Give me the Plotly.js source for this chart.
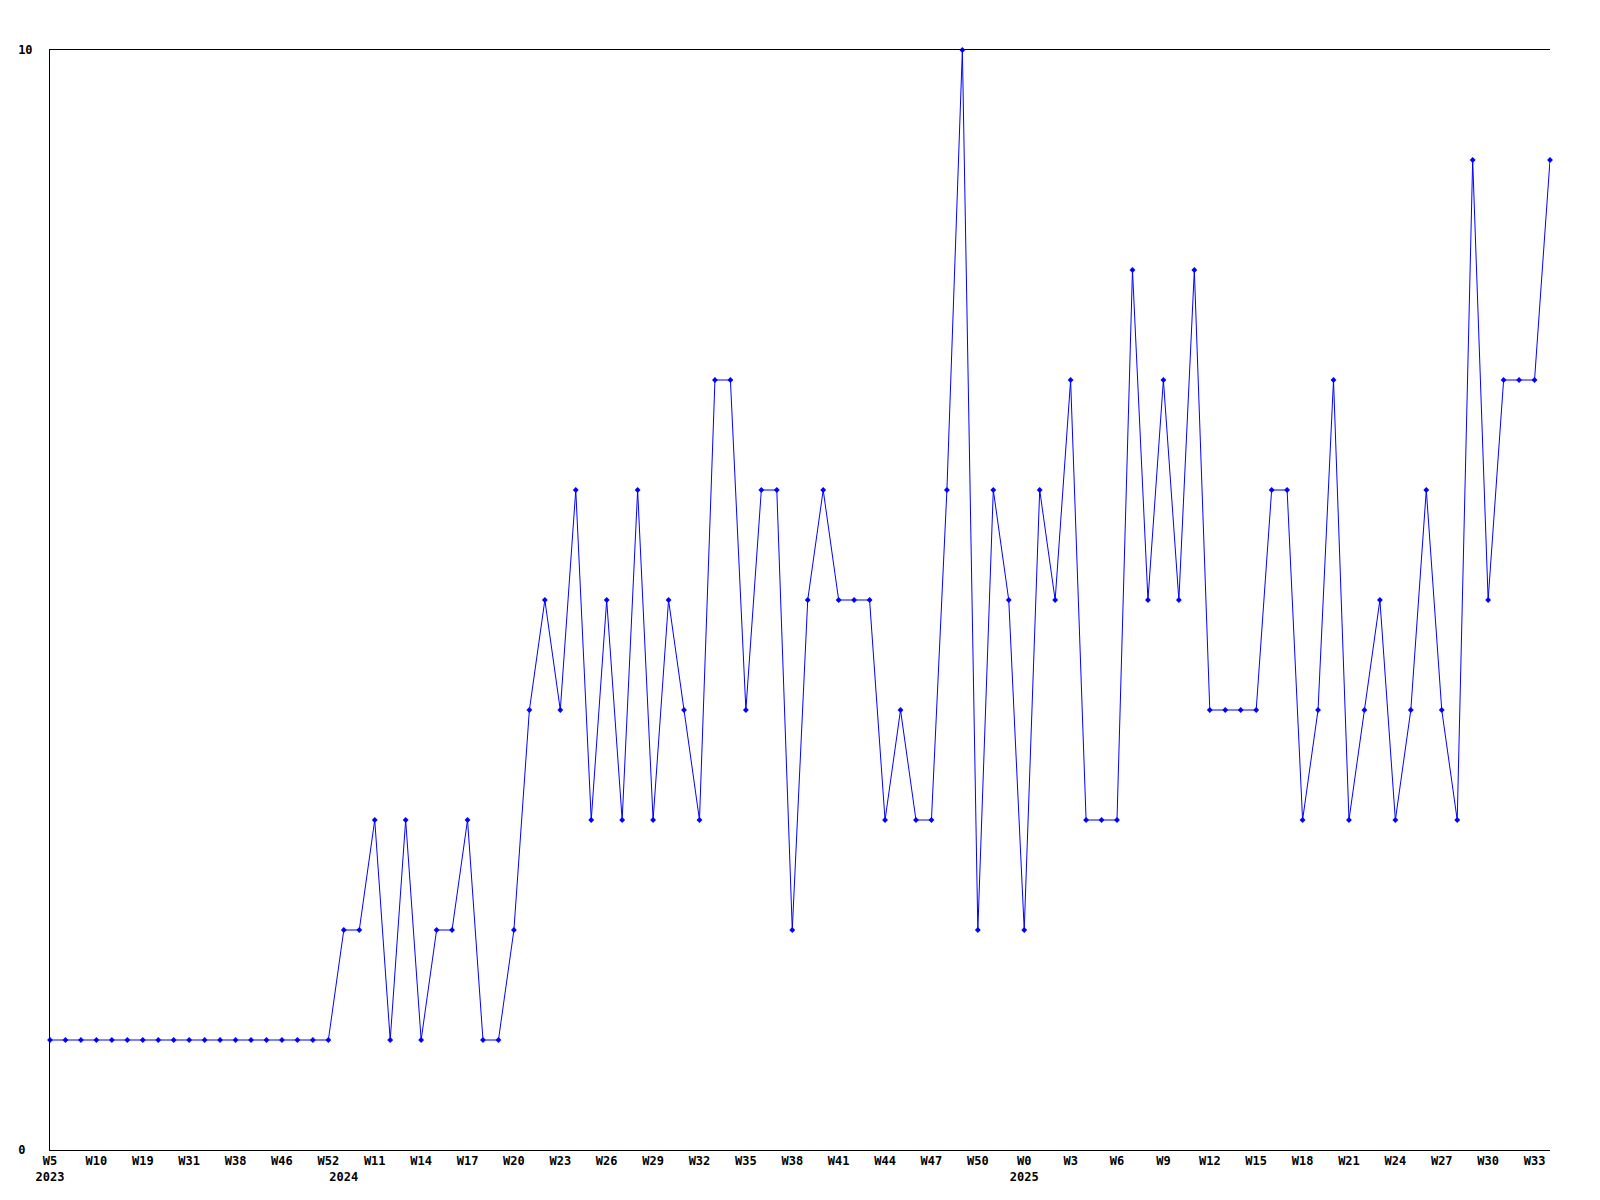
<!DOCTYPE html>
<html>
<head>
<meta charset="utf-8">
<script src="https://cdn.plot.ly/plotly-3.0.1.min.js"></script>
<style>html,body{margin:0;padding:0;background:#fff;}#chart{width:1600px;height:1200px;}</style>
</head>
<body>
<div id="chart"></div>
<script>
// one value per week, in order (x = point index)
const values = [
  1,1,1,1,1,1,1,1,1,1,1,1,1,1,1,1,1,1,1,
  2,2,3,1,3,1,2,2,3,1,1,2,4,5,4,6,3,5,3,6,3,5,4,3,7,7,4,6,6,2,5,6,5,5,5,3,4,3,3,6,10,2,6,5,
  2,6,5,7,3,3,3,8,5,7,5,8,4,4,4,4,6,6,3,4,7,3,4,5,3,4,6,4,3,9,5,7,7,7,9
];
// tick positions (point index) and their labels
const tickIdx = [0,3,6,9,12,15,18,19,21,24,27,30,33,36,39,42,45,48,51,54,57,60,63,66,69,72,75,78,81,84,87,90,93,96];
const tickLabels = ["W5<br>2023","W10","W19","W31","W38","W46","W52","<br>2024","W11","W14","W17","W20","W23","W26","W29","W32","W35","W38","W41","W44","W47","W50","W0<br>2025","W3","W6","W9","W12","W15","W18","W21","W24","W27","W30","W33"];
const yTicks = [0, 10];
const yTickLabels = ["0\u00a0", "10"];

const xs = values.map((v, i) => i);
const font = {family: "DejaVu Sans Mono, Liberation Mono, monospace", size: 12, color: "#000", weight: "bold"};

Plotly.newPlot("chart", [{
  x: xs, y: values, type: "scatter", mode: "lines+markers",
  line: {color: "#0000ff", width: 1},
  marker: {color: "#0000ff", size: 4.5, symbol: "diamond"},
  cliponaxis: false, hoverinfo: "none"
}, {
  x: xs, y: values, xaxis: "x2", type: "scatter", mode: "lines",
  line: {color: "rgba(0,0,0,0)", width: 0}, hoverinfo: "none", showlegend: false
}], {
  width: 1600, height: 1200,
  margin: {l: 50, r: 50, t: 50, b: 50, pad: 0},
  paper_bgcolor: "#fff", plot_bgcolor: "#fff",
  showlegend: false,
  font: font,
  xaxis: {
    range: [0, 97], tickmode: "array", tickvals: tickIdx, ticktext: tickLabels,
    tickangle: 0, showgrid: false, zeroline: false, showline: true, linecolor: "#000", linewidth: 1,
    ticks: "", tickfont: font, fixedrange: true
  },
  xaxis2: {
    range: [0, 97], overlaying: "x", side: "top", showline: true, linecolor: "#000", linewidth: 1,
    showticklabels: false, showgrid: false, zeroline: false, ticks: "", fixedrange: true
  },
  yaxis: {
    range: [0, 10], tickmode: "array", tickvals: yTicks, ticktext: yTickLabels,
    showgrid: false, zeroline: false,
    showline: true, linecolor: "#000", linewidth: 1, ticks: "", tickfont: font,
    ticklabelstandoff: 14, fixedrange: true
  }
}, {staticPlot: true});
</script>
</body>
</html>
